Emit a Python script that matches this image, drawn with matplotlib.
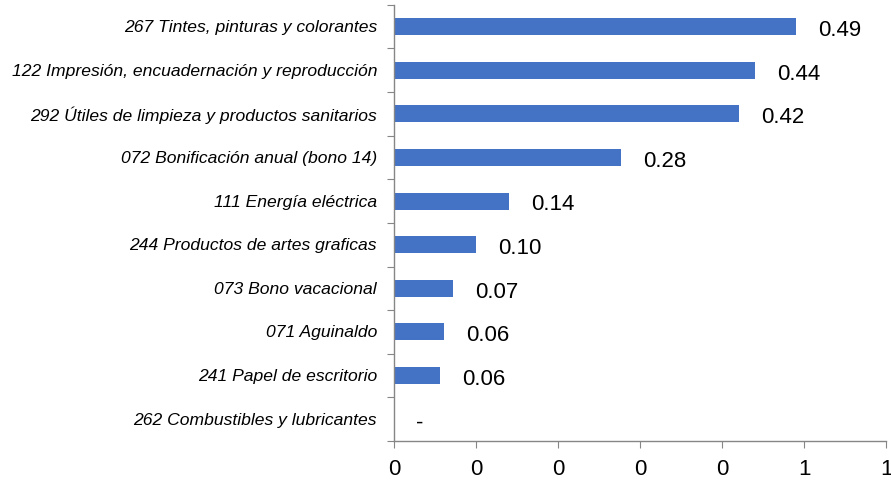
import matplotlib.pyplot as plt

# ==========================================
# DATA
# ==========================================

categories = [
    "267 Tintes, pinturas y colorantes",
    "122 Impresión, encuadernación y reproducción",
    "292 Útiles de limpieza y productos sanitarios",
    "072 Bonificación anual (bono 14)",
    "111 Energía eléctrica",
    "244 Productos de artes graficas",
    "073 Bono vacacional",
    "071 Aguinaldo",
    "241 Papel de escritorio",
    "262 Combustibles y lubricantes",
]

values = [0.49, 0.44, 0.42, 0.276, 0.14, 0.10, 0.072, 0.061, 0.056, 0.0]

x_ticks = [0, 0.1, 0.2, 0.3, 0.4, 0.5, 0.6]
x_tick_labels = ["0", "0", "0", "0", "0", "1", "1"]

# ==========================================
# STYLE
# ==========================================

num_font = ["Liberation Sans", "DejaVu Sans"]
lab_font = ["Liberation Sans", "DejaVu Sans"]

bar_color = "#4472C4"
axis_color = "#868686"

fig = plt.figure(figsize=(8.91, 4.85), dpi=100)
ax = fig.add_axes([0.4425, 0.0887, 0.552, 0.8993])

n = len(categories)
pos = list(range(n))

ax.barh(pos, values, height=0.39, color=bar_color)

ax.set_xlim(0, 0.6)
ax.set_ylim(n - 0.5, -0.5)

# ==========================================
# AXES
# ==========================================

for side in ["top", "right"]:
    ax.spines[side].set_visible(False)
for side in ["left", "bottom"]:
    ax.spines[side].set_color(axis_color)
    ax.spines[side].set_linewidth(1)

ax.set_xticks(x_ticks)
ax.set_xticklabels(x_tick_labels, fontsize=16, family=num_font)
ax.tick_params(axis="x", length=5, color=axis_color, pad=7)

ax.set_yticks([p - 0.5 for p in range(n + 1)])
ax.set_yticklabels([])
ax.tick_params(axis="y", length=5, color=axis_color)

for p, name in zip(pos, categories):
    ax.text(-0.035, p, name, ha="right", va="center", fontsize=12.6,
            style="italic", family=lab_font, transform=ax.get_yaxis_transform())

# ==========================================
# VALUE LABELS
# ==========================================

for p, v in zip(pos, values):
    label = f"{v:.2f}" if v > 0 else "-"
    ax.annotate(label, (v, p), xytext=(16, -2), textcoords="offset points",
                ha="left", va="center", fontsize=16, family=num_font)

fig.savefig("out.png", dpi=100)
